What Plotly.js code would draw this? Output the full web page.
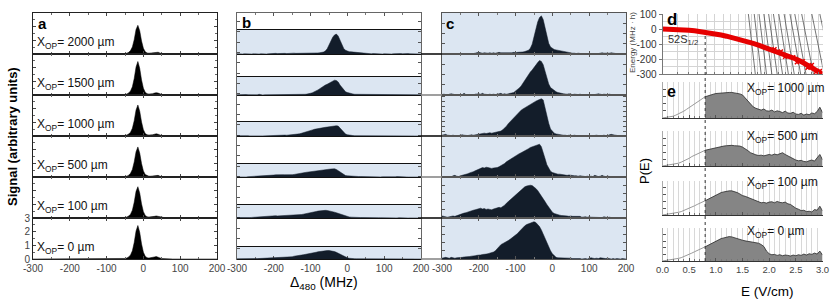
<!DOCTYPE html>
<html><head><meta charset="utf-8">
<script src="https://cdn.plot.ly/plotly-3.0.1.min.js"></script>
<style>html,body{margin:0;padding:0;background:#fff}#chart{width:830px;height:306px}</style>
</head><body><div id="chart"></div>
<script>
// ---------------- DATA ----------------
// Panel a: laser spectra, Delta480 (MHz) vs signal (arb.)
const aX = [-300,-250,-200,-150,-100,-70,-60,-50,-45,-40,-35,-30,-25,-20,-15,-10,-5,0,5,10,15,20,25,30,35,40,45,50,60,80,100,150,200];
const aSig2000 = [0,0,0,0.01,0, 0.01,0.01,0.03,0.06,0.12, 0.25,0.52,1.05,1.8,2.1, 1.7,0.95,0.42,0.17,0.08, 0.06,0.07,0.09,0.13,0.15, 0.13,0.07,0.02,0.01,0, 0.01,0,0];
const aSig1500 = [0,0,0,0.01,0, 0.01,0.02,0.04,0.07,0.15, 0.3,0.6,1.2,2.05,2.45, 1.95,1.1,0.5,0.2,0.1, 0.07,0.07,0.1,0.14,0.17, 0.14,0.07,0.03,0.01,0, 0,0.01,0];
const aSig1000 = [0,0,0.01,0,0, 0.01,0.01,0.04,0.07,0.14, 0.28,0.56,1.12,1.9,2.27, 1.82,1.02,0.46,0.18,0.09, 0.07,0.07,0.09,0.13,0.16, 0.13,0.07,0.02,0.01,0, 0,0,0];
const aSig500  = [0,0,0,0.01,0.01, 0.01,0.02,0.04,0.06,0.13, 0.27,0.55,1.1,1.85,2.2, 1.75,0.98,0.44,0.18,0.09, 0.06,0.06,0.08,0.12,0.14, 0.12,0.06,0.02,0.01,0, 0.01,0,0];
const aSig100  = [0,0,0,0,0.01, 0.01,0.01,0.04,0.07,0.14, 0.28,0.57,1.15,1.95,2.29, 1.83,1.03,0.46,0.19,0.09, 0.07,0.07,0.09,0.12,0.15, 0.12,0.06,0.02,0.01,0.01, 0,0,0];
const aSig0    = [0,0,0,0.01,0, 0.01,0.02,0.04,0.07,0.15, 0.3,0.6,1.2,2.05,2.45, 1.95,1.1,0.5,0.2,0.1, 0.07,0.08,0.11,0.15,0.18, 0.15,0.08,0.03,0.01,0, 0,0,0];

// tick labels
const mhzTicks = [-300,-200,-100,0,100,200];
const mhzTickText = ['-300','-200','-100','0','100','200'];
const energyTicks = [-300,-200,-100,0,100];
const energyTickText = ['-300','-200','-100','0','100'];
const fieldTicks = [0,0.5,1,1.5,2,2.5,3];
const fieldTickText = ['0.0','0.5','1.0','1.5','2.0','2.5','3.0'];

// Panels b and c: Rydberg spectra, Delta480 (MHz)
const cX = [-300,-295,-290,-285,-280,-275,-270,-265,-260,-255,
 -250,-245,-240,-235,-230,-225,-220,-215,-210,-205,
 -200,-195,-190,-185,-180,-175,-170,-165,-160,-155,
 -150,-145,-140,-135,-130,-125,-120,-115,-110,-105,
 -100,-95,-90,-85,-80,-75,-70,-65,-60,-55,
 -50,-45,-40,-35,-30,-25,-20,-15,-10,-5,
 0,5,10,15,20,25,30,35,40,45,
 50,55,60,65,70,75,80,85,90,95,
 100,105,110,115,120,125,130,135,140,145,
 150,155,160,165,170,175,180,185,190,195,
 200];
const c2000 = [0.01,0.00,0.01,0.00,0.01,0.00,0.01,0.00,0.00,0.01,
 0.00,0.01,0.00,0.01,0.00,0.01,0.00,0.01,0.02,0.03,
 0.04,0.03,0.02,0.03,0.02,0.02,0.03,0.02,0.03,0.02,
 0.03,0.04,0.03,0.03,0.02,0.03,0.02,0.03,0.03,0.04,
 0.03,0.04,0.04,0.05,0.05,0.06,0.07,0.09,0.14,0.24,
 0.42,0.62,0.78,0.89,0.93,0.84,0.66,0.42,0.26,0.17,
 0.13,0.11,0.10,0.09,0.08,0.07,0.06,0.05,0.04,0.03,
 0.03,0.02,0.02,0.01,0.02,0.01,0.01,0.00,0.01,0.00,
 0.01,0.00,0.01,0.01,0.00,0.01,0.02,0.03,0.02,0.02,
 0.01,0.02,0.03,0.02,0.01,0.01,0.00,0.01,0.00,0.01,
 0.00];
const c1500 = [0.01,0.02,0.01,0.00,0.02,0.03,0.02,0.01,0.00,0.01,
 0.00,0.01,0.04,0.01,0.00,0.01,0.01,0.00,0.02,0.03,
 0.03,0.02,0.04,0.02,0.01,0.01,0.02,0.01,0.02,0.01,
 0.02,0.03,0.04,0.02,0.03,0.02,0.03,0.04,0.05,0.06,
 0.10,0.13,0.17,0.22,0.29,0.36,0.44,0.50,0.56,0.61,
 0.68,0.74,0.79,0.84,0.82,0.74,0.56,0.42,0.27,0.18,
 0.14,0.10,0.08,0.06,0.04,0.04,0.03,0.02,0.02,0.03,
 0.02,0.01,0.02,0.01,0.01,0.02,0.01,0.00,0.01,0.01,
 0.00,0.01,0.00,0.01,0.02,0.03,0.02,0.01,0.02,0.01,
 0.01,0.02,0.01,0.00,0.01,0.00,0.01,0.00,0.01,0.00,
 0.01];
const c1000 = [0.02,0.03,0.04,0.02,0.01,0.01,0.02,0.01,0.00,0.01,
 0.02,0.03,0.02,0.01,0.01,0.02,0.03,0.02,0.03,0.04,
 0.05,0.06,0.07,0.07,0.06,0.07,0.08,0.07,0.08,0.08,
 0.09,0.10,0.12,0.15,0.19,0.24,0.30,0.35,0.40,0.45,
 0.49,0.54,0.59,0.63,0.66,0.69,0.72,0.75,0.77,0.79,
 0.82,0.85,0.87,0.89,0.91,0.88,0.68,0.48,0.31,0.17,
 0.11,0.07,0.05,0.04,0.03,0.03,0.02,0.02,0.01,0.02,
 0.01,0.01,0.02,0.01,0.00,0.01,0.01,0.02,0.01,0.00,
 0.01,0.00,0.01,0.01,0.02,0.01,0.00,0.01,0.02,0.01,
 0.01,0.03,0.04,0.03,0.02,0.01,0.01,0.00,0.01,0.00,
 0.00];
const c500 = [0.01,0.00,0.01,0.00,0.01,0.00,0.03,0.04,0.02,0.01,
 0.03,0.04,0.05,0.06,0.08,0.10,0.11,0.13,0.15,0.17,
 0.19,0.21,0.23,0.22,0.24,0.23,0.22,0.21,0.22,0.22,
 0.23,0.25,0.27,0.30,0.33,0.37,0.40,0.44,0.47,0.50,
 0.52,0.54,0.57,0.59,0.61,0.64,0.67,0.69,0.72,0.74,
 0.76,0.78,0.80,0.80,0.74,0.62,0.45,0.30,0.20,0.14,
 0.11,0.09,0.08,0.07,0.07,0.06,0.05,0.05,0.04,0.05,
 0.04,0.04,0.03,0.03,0.02,0.03,0.02,0.02,0.01,0.02,
 0.01,0.02,0.01,0.04,0.02,0.01,0.02,0.04,0.02,0.01,
 0.02,0.01,0.01,0.00,0.01,0.00,0.01,0.00,0.00,0.01,
 0.00];
const c100 = [0.05,0.04,0.03,0.02,0.03,0.04,0.05,0.04,0.06,0.08,
 0.09,0.10,0.12,0.13,0.15,0.17,0.18,0.19,0.20,0.21,
 0.23,0.24,0.22,0.23,0.21,0.22,0.21,0.20,0.22,0.23,
 0.24,0.26,0.25,0.27,0.31,0.36,0.40,0.45,0.50,0.53,
 0.57,0.61,0.65,0.68,0.72,0.76,0.78,0.79,0.80,0.79,
 0.76,0.72,0.67,0.61,0.55,0.48,0.40,0.33,0.26,0.19,
 0.14,0.11,0.09,0.07,0.07,0.06,0.06,0.05,0.05,0.04,
 0.05,0.04,0.04,0.03,0.03,0.04,0.02,0.03,0.03,0.02,
 0.03,0.02,0.02,0.01,0.02,0.01,0.02,0.01,0.03,0.01,
 0.01,0.02,0.01,0.00,0.01,0.00,0.01,0.01,0.00,0.01,
 0.00];
const c0 = [0.02,0.03,0.04,0.03,0.02,0.04,0.03,0.02,0.03,0.03,
 0.04,0.04,0.05,0.05,0.06,0.06,0.07,0.07,0.08,0.09,
 0.09,0.10,0.11,0.11,0.12,0.13,0.14,0.15,0.17,0.20,
 0.24,0.30,0.35,0.37,0.39,0.42,0.45,0.48,0.51,0.54,
 0.57,0.62,0.67,0.72,0.77,0.81,0.84,0.86,0.89,0.90,
 0.91,0.89,0.84,0.79,0.71,0.60,0.50,0.41,0.30,0.20,
 0.13,0.08,0.04,0.03,0.03,0.02,0.02,0.03,0.02,0.02,
 0.02,0.01,0.01,0.02,0.01,0.01,0.00,0.01,0.01,0.00,
 0.01,0.03,0.02,0.01,0.02,0.01,0.03,0.02,0.01,0.01,
 0.02,0.01,0.00,0.01,0.00,0.01,0.00,0.00,0.01,0.00,
 0.00];

const xopLabels = ['2000 µm','1500 µm','1000 µm','500 µm','100 µm','0 µm'];

// Panel d: Stark map, E (V/cm) vs energy (MHz h)
const dRedE = [0,0.1,0.2,0.3,0.4,0.5,0.6,0.7,0.8,0.9,1.0,1.1,1.2,1.3,1.4,1.5,1.6,1.7,1.8,1.9,2.0,2.1,2.2,2.3,2.4,2.5,2.6,2.7,2.8,2.9,3.0];
const dRedY = [0,-0.3,-1.3,-3,-5.3,-8.3,-12,-16,-21,-27,-33,-40,-48,-56,-65,-75,-85,-96,-108,-120,-133,-145,-158,-171,-185,-200,-217,-236,-256,-277,-300];
const dDotsE = [2.1,2.22,2.3,2.45,2.52,2.63,2.72,2.8,2.88,2.95];
const dDotsY = [-135,-150,-185,-188,-222,-215,-258,-240,-285,-280];
const starkTopE = [1.61,1.72,1.81,1.90,1.99,2.08,2.18,2.28,2.39,2.48,2.61,2.80,2.95];
const starkBotE = [1.74,1.85,1.95,2.05,2.15,2.25,2.36,2.47,2.59,2.69,2.83,3.03,3.19];
const dGridE = [0.28,0.48,0.66,0.82,0.98,1.14,1.28,1.42,1.55,1.67,1.79,1.92,2.05,2.17,2.3,2.42,2.55,2.67,2.8,2.92];
const thresholdE = 0.8;

// Panel e: field distributions P(E)
const eXlow = [0,0.05,0.1,0.15,0.2,0.25,0.3,0.35,0.4,0.45,0.5,0.55,0.6,0.65,0.7,0.75,0.8];
const eXhigh = [0.8,0.85,0.9,0.95,1.0,1.05,1.1,1.15,1.2,1.25,1.3,1.35,1.4,1.45,1.5,1.55,1.6,1.65,1.7,1.75,1.8,1.85,1.9,1.95,2.0,2.05,2.1,2.15,2.2,2.25,2.3,2.35,2.4,2.45,2.5,2.55,2.6,2.65,2.7,2.75,2.8,2.85,2.9,2.95,3.0];
const eLow1000 = [0,0.01,0.02,0.03,0.05,0.08,0.11,0.14,0.19,0.24,0.29,0.35,0.41,0.46,0.51,0.55,0.59];
const eHigh1000 = [0.59,0.62,0.64,0.66,0.68, 0.69,0.70,0.71,0.71,0.71,0.71,0.70,0.69,0.67,0.64, 0.55,0.46,0.37,0.31,0.27,0.24,0.22,0.25,0.20,0.19, 0.22,0.17,0.20,0.18,0.15,0.19,0.14,0.13,0.16,0.11, 0.10,0.13,0.08,0.11,0.09,0.14,0.12,0.18,0.30,0.15];
const eLow500 = [0,0.01,0.02,0.03,0.04,0.06,0.08,0.11,0.14,0.18,0.22,0.27,0.31,0.35,0.39,0.42,0.45];
const eHigh500 = [0.45,0.47,0.49,0.51,0.53, 0.55,0.56,0.57,0.58,0.59,0.59,0.58,0.58,0.57,0.54, 0.50,0.44,0.38,0.34,0.32,0.30,0.31,0.29,0.31,0.33, 0.31,0.34,0.32,0.36,0.38,0.33,0.29,0.24,0.19,0.17, 0.15,0.16,0.13,0.12,0.15,0.17,0.14,0.22,0.33,0.18];
const eLow100 = [0,0.01,0.02,0.03,0.04,0.06,0.08,0.10,0.13,0.16,0.20,0.23,0.27,0.31,0.35,0.39,0.42];
const eHigh100 = [0.42,0.46,0.50,0.55,0.60, 0.63,0.66,0.68,0.70,0.71,0.71,0.69,0.66,0.62,0.57, 0.55,0.52,0.48,0.44,0.41,0.38,0.36,0.37,0.35,0.38, 0.39,0.36,0.40,0.37,0.36,0.38,0.33,0.31,0.25,0.20, 0.17,0.13,0.14,0.10,0.11,0.09,0.16,0.14,0.26,0.12];
const eLow0 = [0,0.01,0.02,0.03,0.04,0.06,0.08,0.10,0.13,0.16,0.20,0.24,0.28,0.32,0.36,0.40,0.43];
const eHigh0 = [0.43,0.47,0.51,0.56,0.61, 0.65,0.68,0.70,0.72,0.74,0.73,0.70,0.67,0.65,0.63, 0.61,0.60,0.58,0.57,0.55,0.54,0.50,0.44,0.30,0.22, 0.19,0.20,0.17,0.19,0.16,0.18,0.17,0.15,0.18,0.16, 0.19,0.17,0.21,0.18,0.22,0.20,0.24,0.21,0.30,0.18];
const eLabels = ['1000 µm','500 µm','100 µm','0 µm'];

// ---------------- LAYOUT HELPERS ----------------
const W = 830, H = 306;
const FONT = 'Liberation Sans, Arial, sans-serif';
const BLUE = '#dce6f2', NAVY = '#131d2a';
const px = v => v / W;
const py = v => 1 - v / H;
const ydom = (top, bot) => [1 - bot / H, 1 - top / H];
const xn = i => 'xaxis' + (i === 1 ? '' : i);
const yn = i => 'yaxis' + (i === 1 ? '' : i);
const xr = i => 'x' + (i === 1 ? '' : i);
const yr = i => 'y' + (i === 1 ? '' : i);
const tickfont = {family: FONT, size: 10, color: '#444'};
const base = {showgrid: false, zeroline: false, fixedrange: true, tickfont: tickfont};
const mhzTickSpec = {tickmode: 'array', tickvals: mhzTicks, ticktext: mhzTickText};

const bounds = [13, 54, 95, 136, 177, 218, 259];
const bandTop = [30, 77, 122, 164, 205, 247];
const bandMax = [1.12, 1.02, 1.24, 1.27, 1.36, 1.28];
const cDtick = [0.25, 0.25, 0.12, 0.25, 0.2, 0.2];
const aDom = [33, 217], bDom = [237, 421], cDom = [442, 626], dDom = [662.5, 822.5];
const eDomY = [[82, 118], [131, 166], [181, 215], [228, 261]];

const layout = {
  width: W, height: H, autosize: false,
  margin: {l: 0, r: 0, t: 0, b: 0},
  paper_bgcolor: '#fff', plot_bgcolor: 'rgba(0,0,0,0)',
  showlegend: false, hovermode: false,
  font: {family: FONT, color: '#000'},
  shapes: [], annotations: []
};
const traces = [];
const aSeries = [aSig2000, aSig1500, aSig1000, aSig500, aSig100, aSig0];
const cSeries = [c2000, c1500, c1000, c500, c100, c0];

// Panel a: subplots 1..6
for (let k = 0; k < 6; k++) {
  const i = k + 1;
  layout[xn(i)] = Object.assign({}, base, mhzTickSpec, {
    domain: [px(aDom[0]), px(aDom[1])], anchor: yr(i), range: [-300, 200],
    showline: true, linecolor: '#222', linewidth: 1, mirror: 'ticks',
    ticks: 'inside', ticklen: 3, tickcolor: '#444',
    minor: {ticks: 'inside', ticklen: 2, dtick: 50, tickcolor: '#666'},
    showticklabels: k === 5
  });
  layout[yn(i)] = Object.assign({}, base, {
    domain: ydom(bounds[k], bounds[k + 1]), anchor: xr(i), range: [0, 3],
    showline: true, linecolor: '#222', linewidth: 1, mirror: 'ticks',
    ticks: 'inside', ticklen: 3, tickcolor: '#444', dtick: 1,
    minor: {ticks: 'inside', ticklen: 2, dtick: 0.5, tickcolor: '#666'},
    showticklabels: k === 5
  });
  traces.push({x: aX, y: aSeries[k], type: 'scatter', mode: 'lines', fill: 'tozeroy',
    fillcolor: '#000', line: {color: '#000', width: 0.5}, xaxis: xr(i), yaxis: yr(i)});
  layout.annotations.push({text: 'X<sub>OP</sub>= ' + xopLabels[k], xref: 'paper', yref: 'paper',
    x: px(35), y: py(bounds[k + 1] - 11), xanchor: 'left', yanchor: 'middle', showarrow: false,
    font: {family: FONT, size: 12, color: '#111'}});
}

// Panel b frame: subplot 7
layout[xn(7)] = Object.assign({}, base, mhzTickSpec, {
  domain: [px(bDom[0]), px(bDom[1])], anchor: 'y7', range: [-300, 200],
  showline: true, linecolor: '#666', linewidth: 1, mirror: 'ticks',
  ticks: 'inside', ticklen: 3, tickcolor: '#555',
  minor: {ticks: 'inside', ticklen: 2, dtick: 50, tickcolor: '#777'}, showticklabels: true
});
layout[yn(7)] = Object.assign({}, base, {
  domain: ydom(bounds[0], bounds[6]), anchor: 'x7', range: [0, 1],
  showline: true, linecolor: '#666', linewidth: 1, mirror: 'ticks',
  ticks: 'inside', ticklen: 3, tickcolor: '#555', dtick: 0.042, showticklabels: false
});
traces.push({x: [null], y: [null], type: 'scatter', mode: 'markers', xaxis: 'x7', yaxis: 'y7'});

// Panel b bands: subplots 8..13
for (let k = 0; k < 6; k++) {
  const i = 8 + k;
  layout.shapes.push({type: 'rect', xref: 'paper', yref: 'paper', layer: 'below',
    x0: px(bDom[0]), x1: px(bDom[1]), y0: py(bounds[k + 1]), y1: py(bandTop[k]),
    fillcolor: BLUE, line: {width: 0}});
  layout[xn(i)] = Object.assign({}, base, {
    domain: [px(bDom[0]), px(bDom[1])], anchor: yr(i), range: [-300, 200],
    showline: true, linecolor: '#111', linewidth: 1.3, mirror: true, ticks: '', showticklabels: false
  });
  layout[yn(i)] = Object.assign({}, base, {
    domain: ydom(bandTop[k], bounds[k + 1]), anchor: xr(i), range: [0, bandMax[k]],
    showline: false, ticks: '', showticklabels: false
  });
  traces.push({x: cX, y: cSeries[k], type: 'scatter', mode: 'lines', fill: 'tozeroy',
    fillcolor: NAVY, line: {color: NAVY, width: 0.5}, xaxis: xr(i), yaxis: yr(i)});
}

// connecting lines between b and c
const connColors = ['#111', '#888', '#111', '#888', '#111', '#888'];
for (let k = 0; k < 6; k++) {
  layout.shapes.push({type: 'line', xref: 'paper', yref: 'paper',
    x0: px(bDom[1]), x1: px(cDom[0]), y0: py(bounds[k + 1]), y1: py(bounds[k + 1]),
    line: {color: connColors[k], width: 1.6}});
}

// Panel c: subplots 14..19
layout.shapes.push({type: 'rect', xref: 'paper', yref: 'paper', layer: 'below',
  x0: px(cDom[0]), x1: px(cDom[1]), y0: py(bounds[6]), y1: py(bounds[0]),
  fillcolor: BLUE, line: {width: 0}});
for (let k = 0; k < 6; k++) {
  const i = 14 + k;
  layout[xn(i)] = Object.assign({}, base, mhzTickSpec, {
    domain: [px(cDom[0]), px(cDom[1])], anchor: yr(i), range: [-300, 200],
    showline: true, linecolor: '#555', linewidth: 1, mirror: 'ticks',
    ticks: 'inside', ticklen: 3, tickcolor: '#555',
    minor: {ticks: 'inside', ticklen: 2, dtick: 50, tickcolor: '#777'},
    showticklabels: k === 5
  });
  layout[yn(i)] = Object.assign({}, base, {
    domain: ydom(bounds[k], bounds[k + 1]), anchor: xr(i), range: [0, 1],
    showline: true, linecolor: '#555', linewidth: 1, mirror: 'ticks',
    ticks: 'inside', ticklen: 3, tickcolor: '#555', dtick: cDtick[k], showticklabels: false
  });
  traces.push({x: cX, y: cSeries[k], type: 'scatter', mode: 'lines', fill: 'tozeroy',
    fillcolor: NAVY, line: {color: NAVY, width: 0.5}, xaxis: xr(i), yaxis: yr(i)});
}

// Panel d: subplot 20
layout[xn(20)] = Object.assign({}, base, {
  domain: [px(dDom[0]), px(dDom[1])], anchor: 'y20', range: [0, 3],
  showline: true, linecolor: '#777', linewidth: 1, ticks: 'inside', ticklen: 2, tickcolor: '#777',
  tickmode: 'array', tickvals: dGridE, showgrid: true, gridcolor: '#d4d4d4', gridwidth: 1,
  showticklabels: false
});
layout[yn(20)] = Object.assign({}, base, {
  domain: ydom(14, 74), anchor: 'x20', range: [-300, 100],
  showline: true, linecolor: '#777', linewidth: 1, ticks: 'outside', ticklen: 3, tickcolor: '#777',
  tickmode: 'array', tickvals: energyTicks, ticktext: energyTickText,
  showticklabels: true, ticklabelposition: 'outside',
  showgrid: true, gridcolor: '#d4d4d4',
  tickfont: {family: FONT, size: 10, color: '#333'}
});
// horizontal half-step grid in d, via a second overlaying y axis (no labels)
layout[yn(25)] = Object.assign({}, base, {
  domain: ydom(14, 74), anchor: 'x20', overlaying: 'y20', range: [-300, 100],
  showline: false, ticks: '', showticklabels: false, dtick: 50, showgrid: true, gridcolor: '#d4d4d4'
});
traces.push({x: [null], y: [null], type: 'scatter', mode: 'markers', xaxis: 'x20', yaxis: 'y25'});
const starkX = [], starkY = [];
for (let k = 0; k < starkTopE.length; k++) {
  starkX.push(starkTopE[k], starkBotE[k], null);
  starkY.push(100, -300, null);
}
traces.push({x: starkX, y: starkY, type: 'scatter', mode: 'lines',
  line: {color: '#3a3a3a', width: 0.7}, xaxis: 'x20', yaxis: 'y20', connectgaps: false});
traces.push({x: dRedE, y: dRedY, type: 'scatter', mode: 'lines',
  line: {color: '#e60000', width: 5}, xaxis: 'x20', yaxis: 'y20'});
traces.push({x: dDotsE, y: dDotsY, type: 'scatter', mode: 'markers',
  marker: {color: '#e60000', size: 4, symbol: 'x-thin', line: {color: '#e60000', width: 1.5}},
  xaxis: 'x20', yaxis: 'y20'});
layout.annotations.push({text: '52S<sub>1/2</sub>', xref: 'paper', yref: 'paper',
  x: px(666), y: py(40), xanchor: 'left', yanchor: 'middle', showarrow: false,
  font: {family: FONT, size: 11, color: '#333'}});

// Panel e: subplots 21..24
const eLowS = [eLow1000, eLow500, eLow100, eLow0];
const eHighS = [eHigh1000, eHigh500, eHigh100, eHigh0];
for (let k = 0; k < 4; k++) {
  const i = 21 + k;
  layout[xn(i)] = Object.assign({}, base, {
    domain: [px(dDom[0]), px(dDom[1])], anchor: yr(i), range: [0, 3],
    showline: true, linecolor: '#333', linewidth: 1,
    ticks: 'inside', ticklen: 3, tickcolor: '#555',
    tickmode: 'array', tickvals: fieldTicks, ticktext: fieldTickText,
    showgrid: true, gridcolor: '#d8d8d8',
    minor: {ticks: 'inside', ticklen: 2, dtick: 0.1, tick0: 0, tickcolor: '#777', showgrid: true, gridcolor: '#d8d8d8'},
    showticklabels: k === 3, tickfont: {family: FONT, size: 9.5, color: '#444'}
  });
  layout[yn(i)] = Object.assign({}, base, {
    domain: ydom(eDomY[k][0], eDomY[k][1]), anchor: xr(i), range: [0, 1],
    showline: true, linecolor: '#aaa', linewidth: 1,
    ticks: 'inside', ticklen: 3, tickcolor: '#555', dtick: 0.2, showticklabels: false
  });
  traces.push({x: eXlow, y: eLowS[k], type: 'scatter', mode: 'lines',
    line: {color: '#9a9a9a', width: 1}, xaxis: xr(i), yaxis: yr(i)});
  traces.push({x: eXhigh, y: eHighS[k], type: 'scatter', mode: 'lines', fill: 'tozeroy',
    fillcolor: '#858585', line: {color: '#2a2a2a', width: 0.8}, xaxis: xr(i), yaxis: yr(i)});
  layout.annotations.push({text: 'X<sub>OP</sub>= ' + eLabels[k], xref: 'paper', yref: 'paper',
    x: px(745), y: py([89, 137, 183, 232][k]), xanchor: 'left', yanchor: 'middle', showarrow: false,
    font: {family: FONT, size: 12, color: '#111'}});
}

// dotted threshold line across d and e
layout.shapes.push({type: 'line', xref: 'x20', yref: 'paper', x0: thresholdE, x1: thresholdE,
  y0: py(261), y1: py(33), line: {color: '#333', width: 1, dash: 'dot'}});

// panel letters and axis titles
const ann = (text, x, y, size, opts) => layout.annotations.push(Object.assign({
  text: text, xref: 'paper', yref: 'paper', x: px(x), y: py(y), showarrow: false,
  xanchor: 'center', yanchor: 'middle', font: {family: FONT, size: size, color: '#000'}}, opts || {}));
ann('<b>a</b>', 42, 24, 15);
ann('<b>b</b>', 246, 23, 15);
ann('<b>c</b>', 450, 24, 15);
ann('<b>d</b>', 672, 19, 17);
ann('<b>e</b>', 671, 91, 16);
ann('<b>Signal (arbitrary units)</b>', 12, 137, 13, {textangle: -90});
ann('Δ<sub>480</sub> (MHz)', 324, 283, 14);
ann('E (V/cm)', 767, 291, 13.5);
ann('P(E)', 644, 171, 13, {textangle: -90});
ann('Energy (MHz · h)', 633, 43, 8.5, {textangle: -90, font: {family: FONT, size: 8, color: '#444'}});

Plotly.newPlot('chart', traces, layout, {staticPlot: true, displayModeBar: false});
</script></body></html>
